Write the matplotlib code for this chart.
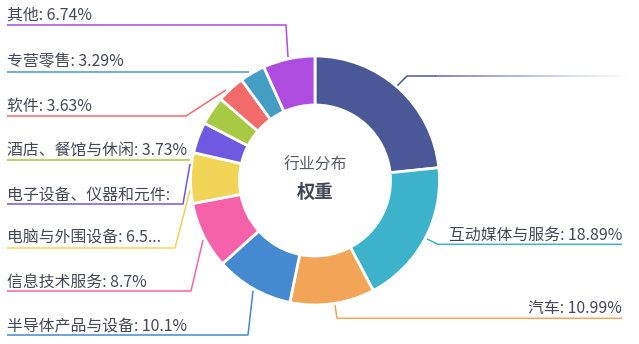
import matplotlib
matplotlib.use("Agg")
import matplotlib.pyplot as plt
import numpy as np
from matplotlib.collections import LineCollection

plt.rcParams['font.family'] = ['Noto Sans CJK SC', 'DejaVu Sans']

# ---- data (clockwise from 12 o'clock) ----
categories = ["其他行业", "互动媒体与服务", "汽车", "半导体产品与设备", "信息技术服务",
              "电脑与外围设备", "电子设备、仪器和元件", "酒店、餐馆与休闲", "软件",
              "专营零售", "其他"]
values = [23.36, 18.89, 10.99, 10.1, 8.7, 6.55, 4.02, 3.73, 3.63, 3.29, 6.74]
label_texts = [None, "互动媒体与服务: 18.89%", "汽车: 10.99%", "半导体产品与设备: 10.1%",
               "信息技术服务: 8.7%", "电脑与外围设备: 6.5...", "电子设备、仪器和元件:",
               "酒店、餐馆与休闲: 3.73%", "软件: 3.63%", "专营零售: 3.29%", "其他: 6.74%"]
colors = ["#4b5898", "#3db3cb", "#f2a556", "#4589d0", "#f562a9", "#f2d457",
          "#6f59e0", "#a8c944", "#f36a6a", "#449dc3", "#ae4ce0"]

W, H = 639, 344
fig = plt.figure(figsize=(W / 100, H / 100), dpi=100)
ax = fig.add_axes([0, 0, 1, 1])

cx, cy = 315, 180.5
r_out, r_in = 124.5, 75.5
ax.pie(values, colors=colors, startangle=-90, counterclock=True,
       radius=r_out, center=(cx, cy), frame=True,
       wedgeprops=dict(width=r_out - r_in, edgecolor='white', linewidth=2))
ax.set_xlim(0, W)
ax.set_ylim(H, 0)
ax.set_aspect('auto')
ax.axis('off')

txt_color = '#434856'
fs = 11.4

# leader-line layout (pixel positions) per category index
left_layout = {
    10: (15, [(7, 25), (286, 25), (288, 57)]),
    9: (62, [(7, 72), (249, 72)]),
    8: (106, [(7, 116), (186, 116), (226, 90)]),
    7: (151, [(7, 159.5), (190, 159.5)]),
    6: (195, [(7, 204), (183, 204), (190, 164)]),
    5: (238.5, [(7, 248), (175, 248), (190, 190)]),
    4: (282, [(7, 291), (191, 291), (203, 240)]),
    3: (326, [(7, 335), (248, 335), (253, 291)]),
}
right_layout = {
    1: (235, [(427, 239), (438, 244.3), (622, 244.3)]),
    2: (308, [(335, 305), (337, 318.3), (622, 318.3)]),
}
for i, (ty, pts) in left_layout.items():
    xs, ys = zip(*pts)
    ax.plot(xs, ys, color=colors[i], lw=1.1, solid_capstyle='butt')
    ax.text(7, ty, label_texts[i], fontsize=fs, color=txt_color, ha='left', va='center')
for i, (ty, pts) in right_layout.items():
    xs, ys = zip(*pts)
    ax.plot(xs, ys, color=colors[i], lw=1.1, solid_capstyle='butt')
    ax.text(622, ty, label_texts[i], fontsize=fs, color=txt_color, ha='right', va='center')

# first slice: leader line fading to the right (label off-canvas)
ax.plot([398, 407, 435], [85, 76, 76], color=colors[0], lw=1.1)
xg = np.linspace(435, 630, 60)
segs = [[(xg[k], 76), (xg[k + 1], 76)] for k in range(len(xg) - 1)]
alphas = np.linspace(0.9, 0.0, len(segs))
rgba = [matplotlib.colors.to_rgba(colors[0], a) for a in alphas]
ax.add_collection(LineCollection(segs, colors=rgba, linewidths=1.1))

# centre title
ax.text(cx, 165, "行业分布", fontsize=11.4, color='#555a66', ha='center', va='center')
ax.text(cx, 192, "权重", fontsize=13.2, color='#434856', ha='center', va='center',
        fontweight='bold')

fig.savefig("out.png", dpi=100)
